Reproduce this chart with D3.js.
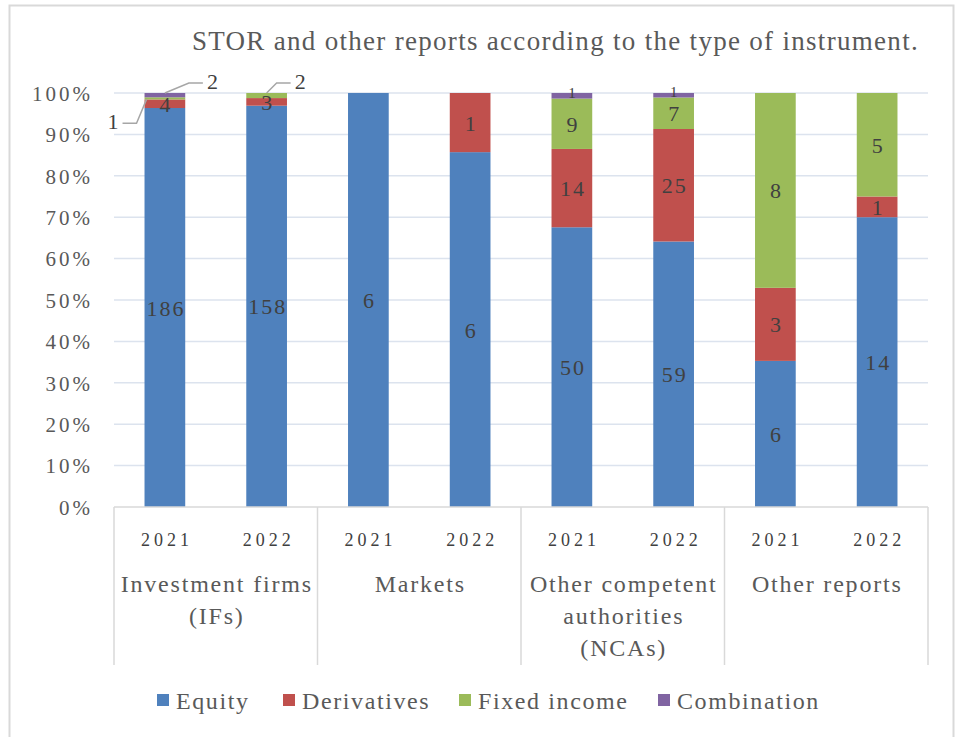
<!DOCTYPE html>
<html>
<head>
<meta charset="utf-8">
<script src="https://cdn.jsdelivr.net/npm/d3@7"></script>
<style>
  body { margin: 0; background: #fff; }
  text { font-family: "Liberation Serif", "DejaVu Serif", serif; }
</style>
</head>
<body>
<div id="chart"></div>
<script>
// data
const groups = [["Investment firms", "(IFs)"], ["Markets"], ["Other competent", "authorities", "(NCAs)"], ["Other reports"]];
const years = ["2021", "2022"];
const seriesNames = ["Equity", "Derivatives", "Fixed income", "Combination"];
const equity = [186, 158, 6, 6, 50, 59, 6, 14];
const derivatives = [4, 3, 0, 1, 14, 25, 3, 1];
const fixedIncome = [1, 2, 0, 0, 9, 7, 8, 5];
const combination = [2, 0, 0, 0, 1, 1, 0, 0];
const yTicks = [0, 0.1, 0.2, 0.3, 0.4, 0.5, 0.6, 0.7, 0.8, 0.9, 1];
const colors = ["#4f81bd", "#c0504d", "#9bbb59", "#8064a2"];

let width = 955, height = 737;

let svg = d3.select("#chart")
  .append("svg")
  .attr("width", width)
  .attr("height", height);

// outer chart border (runs off the bottom of the picture)
svg.append("rect")
  .attr("x", 9.5).attr("y", 5.5)
  .attr("width", 944).attr("height", 760)
  .attr("fill", "white")
  .attr("stroke", "#d9d9d9")
  .attr("stroke-width", 2);

// build rows for the stack
const rows = equity.map((e, i) => ({
  idx: i,
  "Equity": e,
  "Derivatives": derivatives[i],
  "Fixed income": fixedIncome[i],
  "Combination": combination[i]
}));

const stacked = d3.stack()
  .keys(seriesNames)
  .offset(d3.stackOffsetExpand)(rows);

let plot = { left: 114, right: 928, top: 93, bottom: 507 };

let yscale = d3.scaleLinear()
  .domain([0, 1])
  .range([plot.bottom, plot.top]);

let xscale = d3.scaleBand()
  .domain(rows.map(d => d.idx))
  .range([plot.left, plot.right])
  .paddingInner(0.6)
  .paddingOuter(0.3);

// gridlines
svg.append("g")
  .selectAll("line")
  .data(yTicks.slice(1))
  .join("line")
  .attr("x1", plot.left)
  .attr("x2", plot.right)
  .attr("y1", d => yscale(d))
  .attr("y2", d => yscale(d))
  .attr("stroke", "#dce3ee")
  .attr("stroke-width", 1.5);

// y axis labels
let yaxis = svg.append("g")
  .attr("transform", `translate(${plot.left - 5},0)`)
  .call(d3.axisLeft(yscale).tickValues(yTicks).tickFormat(d3.format(".0%")).tickSize(0).tickPadding(16));
yaxis.select(".domain").remove();
yaxis.selectAll("text")
  .attr("fill", "#595959")
  .attr("dy", "0.35em")
  .style("font-size", "21px")
  .style("letter-spacing", "3px")
  .style("font-family", "Liberation Serif, serif");

// bars
svg.append("g")
  .selectAll("g")
  .data(stacked)
  .join("g")
  .attr("fill", (d, i) => colors[i])
  .selectAll("rect")
  .data(d => d)
  .join("rect")
  .attr("x", d => xscale(d.data.idx))
  .attr("y", d => yscale(d[1]))
  .attr("height", d => yscale(d[0]) - yscale(d[1]))
  .attr("width", xscale.bandwidth());

// data labels inside segments
const outside = { "2-0": true, "3-0": true, "2-1": true };
stacked.forEach((s, si) => {
  s.forEach(d => {
    const v = d.data[s.key];
    if (!v || outside[si + "-" + d.data.idx]) return;
    const thin = yscale(d[0]) - yscale(d[1]) < 6;
    svg.append("text")
      .attr("x", xscale(d.data.idx) + xscale.bandwidth() / 2 + 1)
      .attr("y", (yscale(d[0]) + yscale(d[1])) / 2 + (thin ? 2 : 8))
      .attr("text-anchor", "middle")
      .attr("fill", "#404040")
      .style("font-size", thin ? "15px" : "22px")
      .style("letter-spacing", "2px")
      .text(v);
  });
});

// labels with leader lines for the thin segments
const leaders = [
  { s: 2, i: 0, dx: -10, dy: 24, anchor: "end" },
  { s: 3, i: 0, dx: 24, dy: -10, anchor: "start" },
  { s: 2, i: 1, dx: 10, dy: -10, anchor: "start" }
];
leaders.forEach(l => {
  const d = stacked[l.s][l.i];
  const bx = xscale(l.i);
  const by = (yscale(d[0]) + yscale(d[1])) / 2;
  const sx = l.anchor === "end" ? bx + 2 : bx + xscale.bandwidth() / 2;
  const sy = l.anchor === "end" ? by + 1 : yscale(d[1]);
  const ex = sx + l.dx, ey = sy + l.dy;
  svg.append("polyline")
    .attr("points", `${sx},${sy} ${ex},${ey} ${ex + (l.anchor === "end" ? -14 : 14)},${ey}`)
    .attr("fill", "none")
    .attr("stroke", "#a6a6a6")
    .attr("stroke-width", 1.5);
  svg.append("text")
    .attr("x", ex + (l.anchor === "end" ? -18 : 18))
    .attr("y", ey + 6)
    .attr("text-anchor", l.anchor)
    .attr("fill", "#404040")
    .style("font-size", "22px")
    .text(d.data[stacked[l.s].key]);
});

// category axis: baseline and group separators
const groupW = (plot.right - plot.left) / groups.length;
svg.append("line")
  .attr("x1", plot.left).attr("x2", plot.right)
  .attr("y1", plot.bottom).attr("y2", plot.bottom)
  .attr("stroke", "#d9d9d9").attr("stroke-width", 1.5);

d3.range(groups.length + 1).forEach(i => {
  svg.append("line")
    .attr("x1", plot.left + i * groupW).attr("x2", plot.left + i * groupW)
    .attr("y1", plot.bottom).attr("y2", 665)
    .attr("stroke", "#d9d9d9").attr("stroke-width", 1.5);
});

// year labels
rows.forEach(d => {
  svg.append("text")
    .attr("x", xscale(d.idx) + xscale.bandwidth() / 2 + 2)
    .attr("y", 546)
    .attr("text-anchor", "middle")
    .attr("fill", "#404040")
    .style("font-size", "18px")
    .style("letter-spacing", "4px")
    .text(years[d.idx % 2]);
});

// group labels
groups.forEach((lines, gi) => {
  lines.forEach((t, li) => {
    svg.append("text")
      .attr("x", plot.left + gi * groupW + groupW / 2 + 1)
      .attr("y", 592 + li * 32)
      .attr("text-anchor", "middle")
      .attr("fill", "#595959")
      .style("font-size", "24px")
      .style("letter-spacing", "1.8px")
      .text(t);
  });
});

// title
svg.append("text")
  .attr("x", 919)
  .attr("y", 50)
  .attr("text-anchor", "end")
  .attr("fill", "#595959")
  .style("font-size", "27px")
  .style("letter-spacing", "1.3px")
  .text("STOR and other reports according to the type of instrument.");

// legend
const legendX = [157, 283, 459, 658];
seriesNames.forEach((n, i) => {
  svg.append("rect")
    .attr("x", legendX[i]).attr("y", 694)
    .attr("width", 12).attr("height", 12)
    .attr("fill", colors[i]);
  svg.append("text")
    .attr("x", legendX[i] + 19)
    .attr("y", 709)
    .attr("fill", "#595959")
    .style("font-size", "24px")
    .style("letter-spacing", "1.6px")
    .text(n);
});
</script>
</body>
</html>
